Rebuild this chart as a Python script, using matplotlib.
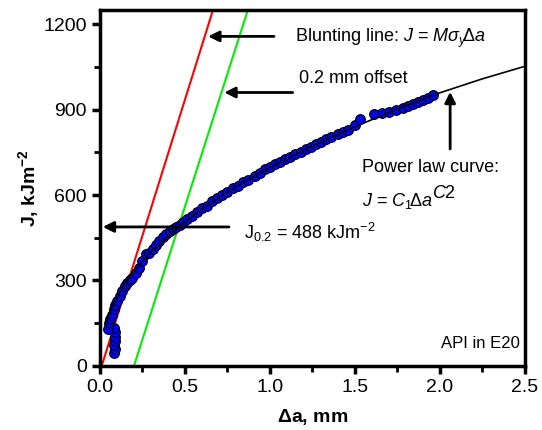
import matplotlib
matplotlib.use('Agg')
import matplotlib.pyplot as plt
from matplotlib.ticker import MultipleLocator

plt.rcParams['font.family'] = ['Liberation Sans', 'DejaVu Sans']
plt.rcParams['mathtext.fontset'] = 'custom'
plt.rcParams['mathtext.rm'] = 'Liberation Sans'
plt.rcParams['mathtext.it'] = 'Liberation Sans:italic'
plt.rcParams['mathtext.bf'] = 'Liberation Sans:bold'

# measured J-R data (delta a in mm, J in kJ/m^2)
da_pts = [0.085, 0.088, 0.085, 0.09, 0.087, 0.09, 0.085,
          0.045, 0.055, 0.06, 0.07, 0.08, 0.09, 0.10, 0.115, 0.13, 0.145,
          0.16, 0.175, 0.19, 0.21, 0.23, 0.25, 0.27, 0.29, 0.31, 0.33,
          0.35, 0.37, 0.39, 0.41, 0.43, 0.45, 0.47, 0.49, 0.51, 0.54,
          0.57, 0.60, 0.63, 0.66, 0.69, 0.72, 0.75, 0.78, 0.81, 0.84,
          0.87, 0.91, 0.94, 0.97, 1.00, 1.03, 1.06, 1.09, 1.12, 1.15,
          1.18, 1.21, 1.24, 1.27, 1.30, 1.33, 1.36, 1.40, 1.43, 1.46,
          1.50, 1.53, 1.61, 1.66, 1.70, 1.74, 1.78, 1.81, 1.84, 1.87,
          1.90, 1.93, 1.96]
J_pts = [45, 58, 72, 88, 102, 118, 132,
         130, 150, 165, 180, 200, 215, 228, 245, 262, 280,
         292, 300, 310, 325, 345, 370, 392, 398, 410, 425,
         440, 452, 462, 472, 480, 488, 495, 505, 515, 527,
         540, 555, 562, 580, 590, 600, 612, 625, 633, 645,
         654, 668, 678, 690, 697, 708, 716, 726, 733, 743,
         750, 762, 770, 780, 787, 795, 802, 815, 822, 830,
         845, 868, 883, 888, 893, 900, 905, 912, 918, 925,
         932, 942, 952]

# power law fit curve
fit_da = [0.03, 0.04, 0.05, 0.065, 0.075, 0.1, 0.15, 0.2, 0.3, 0.4, 0.5,
          0.6, 0.8, 1.0, 1.25, 1.5, 1.75, 2.0, 2.25, 2.5]
fit_J = [138, 158, 175, 196, 211, 241, 291, 332, 400, 457, 506,
         551, 629, 697, 772, 840, 902, 959, 1008, 1052]

# blunting line and 0.2 mm offset line
blunt_da = [0.01, 0.665]
blunt_J = [0, 1250]
offset_da = [0.2, 0.87]
offset_J = [0, 1250]

J02 = 488

fig = plt.figure(figsize=(5.42, 4.30), dpi=100)
ax = fig.add_axes([0.1845, 0.149, 0.784, 0.828])

ax.plot(blunt_da, blunt_J, color='#ff0000', lw=1.5, zorder=2)
ax.plot(offset_da, offset_J, color='#00ee00', lw=1.5, zorder=2)
ax.plot(da_pts, J_pts, 'o', ms=7, mfc='#0000ff', mec='black', mew=0.8, zorder=3)
ax.plot(fit_da, fit_J, color='black', lw=1.2, zorder=4)

arw = dict(arrowstyle='-|>', color='black', lw=2, mutation_scale=16)
ax.annotate('', xy=(0.62, 1157), xytext=(1.04, 1157), arrowprops=arw)
ax.text(1.15, 1150, r'Blunting line: $J$ = $M\sigma_y\!\Delta a$', fontsize=13, va='center')
ax.annotate('', xy=(0.715, 960), xytext=(1.15, 960), arrowprops=arw)
ax.text(1.17, 1010, '0.2 mm offset', fontsize=13, va='center')
ax.annotate('', xy=(0.0, J02), xytext=(0.775, J02), arrowprops=arw)
ax.text(0.85, 470, r'J$_{\mathregular{0.2}}$ = 488 kJm$^{\mathregular{-2}}$', fontsize=13, va='center')
ax.annotate('', xy=(2.06, 972), xytext=(2.06, 752), arrowprops=arw)
ax.text(1.54, 695, 'Power law curve:', fontsize=13, va='center')
ax.text(1.54, 580, r'$J$ = $C_1\!\Delta a$', fontsize=13, va='center')
ax.text(1.955, 605, r'$C$2', fontsize=13, va='center')
ax.text(2.47, 80, 'API in E20', fontsize=12, ha='right', va='center')

ax.set_xlim(0, 2.5)
ax.set_ylim(0, 1250)
ax.xaxis.set_major_locator(MultipleLocator(0.5))
ax.xaxis.set_minor_locator(MultipleLocator(0.25))
ax.yaxis.set_major_locator(MultipleLocator(300))
ax.yaxis.set_minor_locator(MultipleLocator(150))
ax.xaxis.set_major_formatter(plt.FormatStrFormatter('%.1f'))

for s in ax.spines.values():
    s.set_linewidth(2.5)
ax.tick_params(which='major', direction='out', length=6, width=2.5, labelsize=14)
ax.tick_params(which='minor', direction='out', length=4, width=2)

ax.set_xlabel(r'$\mathbf{\Delta}$a, mm', fontsize=14, fontweight='bold', labelpad=8)
ax.set_ylabel(r'J, kJm$^{\mathbf{-2}}$', fontsize=14, fontweight='bold', labelpad=2)

fig.savefig('out.png', dpi=100)
